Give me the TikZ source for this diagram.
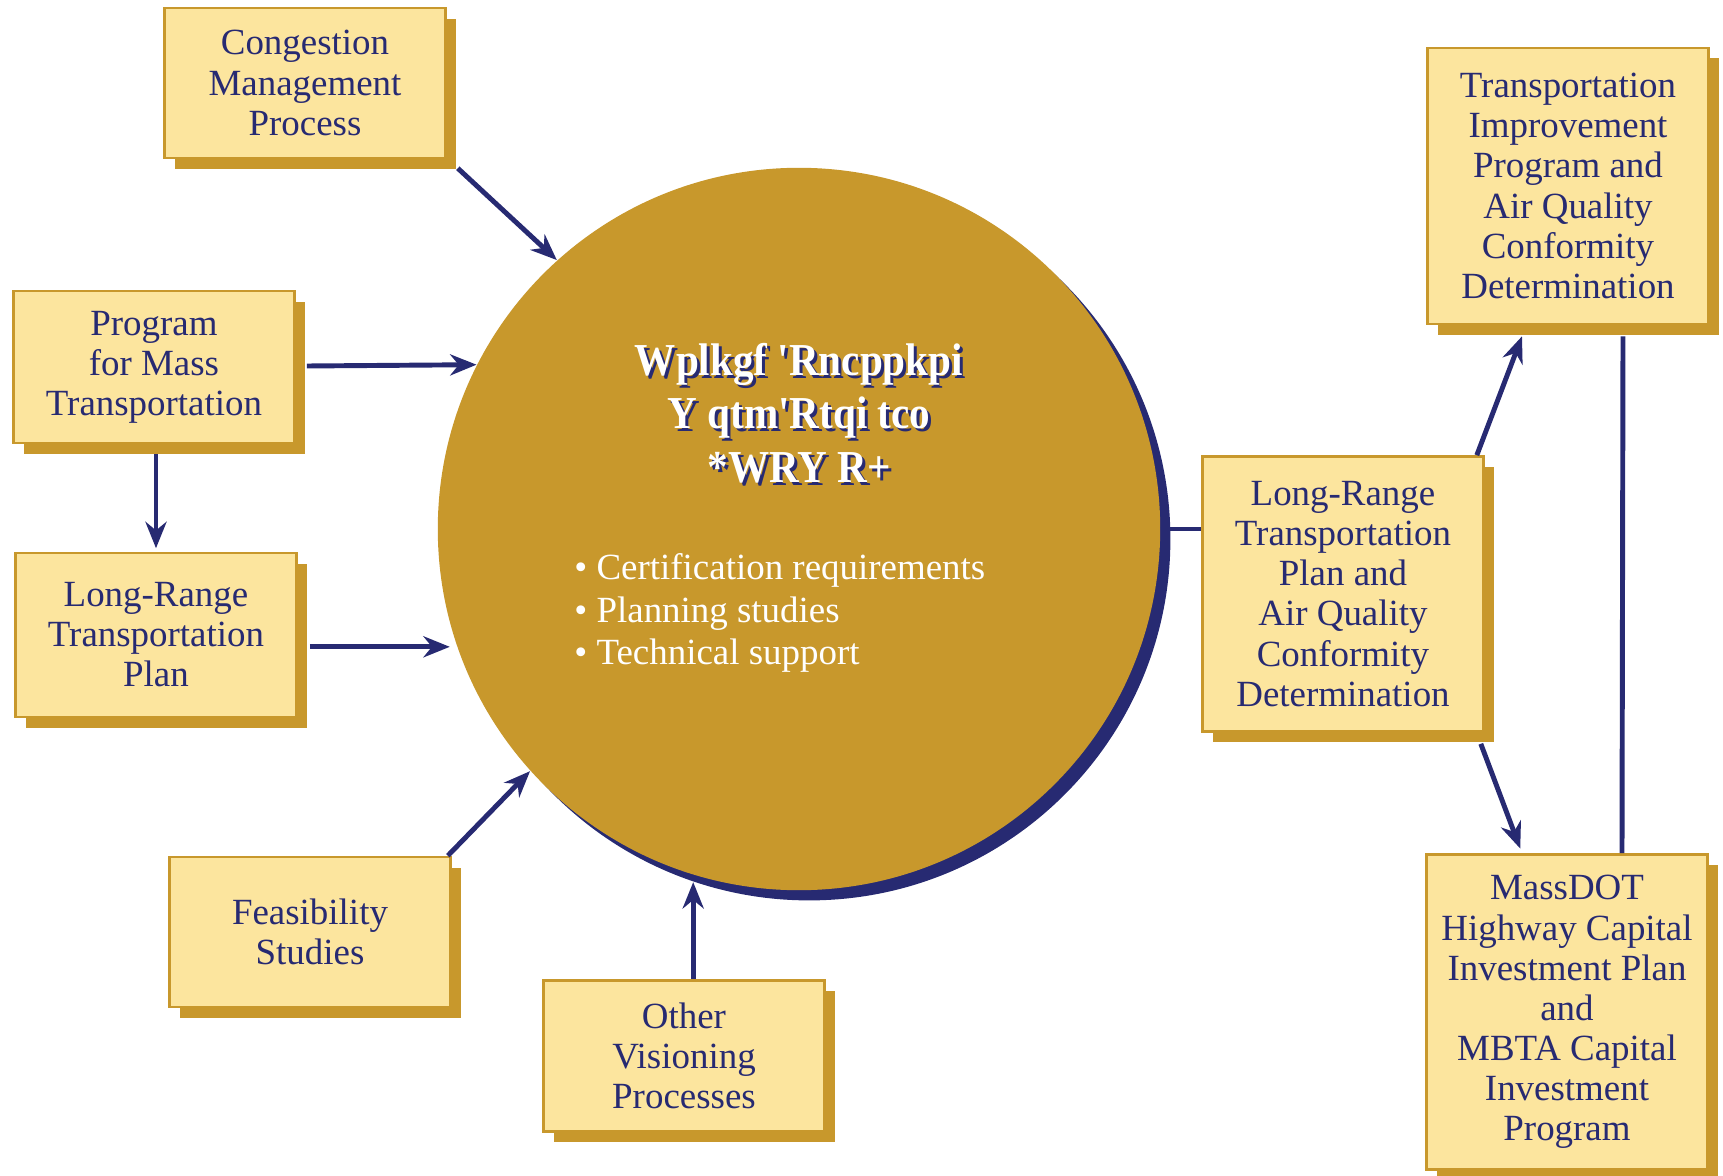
\documentclass[tikz,border=0pt]{standalone}
\usepackage{fontspec}
\setmainfont{Liberation Serif}
\usetikzlibrary{arrows.meta, shadows, calc}

\definecolor{navy}{HTML}{272A72}
\definecolor{gold}{HTML}{C8982C}
\definecolor{paleyellow}{HTML}{FCE59E}

\begin{document}
\begin{tikzpicture}[x=0.01cm, y=-0.01cm, >={Stealth[length=7.5pt,width=6pt]},
	proc/.style={draw=gold, fill=paleyellow, line width=0.7pt, text=navy, align=center,
		minimum width=2.81cm, inner sep=0pt, font=\fontsize{10.5}{11.4}\selectfont,
		drop shadow={shadow xshift=3pt, shadow yshift=-3pt, fill=gold, opacity=1}},
	arr/.style={->, draw=navy, line width=1.4pt},
	link/.style={draw=navy, line width=1.4pt}]
	\useasboundingbox (0,0) rectangle (1723,1176);

	\node[circle, fill=gold, minimum size=7.22cm, inner sep=0pt,
		drop shadow={shadow xshift=2.9pt, shadow yshift=-2.9pt, fill=navy, opacity=1}] (upwp) at (799,529) {};
	\node[text=navy, align=center, font=\bfseries\fontsize{13}{15.2}\selectfont] (ttlshadow) at (802,416)
		{\scalebox{0.9}[1]{Wplkgf \textquotesingle Rncppkpi}\\\scalebox{0.9}[1]{Y qtm\textquotesingle Rtqi tco}\\\scalebox{0.9}[1]{*WRY R+}};
	\node[text=white, align=center, font=\bfseries\fontsize{13}{15.2}\selectfont] (ttl) at (799,413)
		{\scalebox{0.9}[1]{Wplkgf \textquotesingle Rncppkpi}\\\scalebox{0.9}[1]{Y qtm\textquotesingle Rtqi tco}\\\scalebox{0.9}[1]{*WRY R+}};
	\node[anchor=west, text=white, align=left, font=\fontsize{10.5}{12.2}\selectfont] (tasks) at (562,613)
		{• Certification requirements\\• Planning studies\\• Technical support};

	\node[proc, minimum height=1.50cm] (cmp) at (305,83) {Congestion\\Management\\Process};
	\node[proc, minimum height=1.52cm] (prog) at (154,367) {Program\\for Mass\\Transportation};
	\node[proc, minimum height=1.64cm] (lrl) at (156,635) {Long-Range\\Transportation\\Plan};
	\node[proc, minimum height=1.50cm] (feas) at (310,932) {Feasibility\\Studies};
	\node[proc, minimum height=1.51cm] (ovp) at (684,1056) {Other\\Visioning\\Processes};
	\node[proc, minimum height=2.75cm] (lrr) at (1343,594)
		{Long-Range\\Transportation\\Plan and\\Air Quality\\Conformity\\Determination};
	\node[proc, minimum height=2.76cm] (tip) at (1568,186)
		{Transportation\\Improvement\\Program and\\Air Quality\\Conformity\\Determination};
	\node[proc, minimum height=3.15cm] (mdot) at (1567,1012)
		{MassDOT\\Highway Capital\\Investment Plan\\and\\MBTA Capital\\Investment\\Program};

	\draw[arr] ($(cmp.south east)+(11,9)$) -- (upwp.132);
	\draw[arr] ($(prog.east)+(11,-1)$) -- (upwp.153);
	\draw[arr, shorten >=1pt] ($(prog.south -| lrl.north)+(0,10)$) -- (lrl.north);
	\draw[arr, shorten >=2pt] ($(lrl.east |- upwp.199)+(12,0)$) -- (upwp.199);
	\draw[arr] ($(feas.north east)+(-4,0)$) -- (upwp.222);
	\draw[arr, shorten >=2pt] (ovp.north -| upwp.253) -- (upwp.253);
	\draw[link] (upwp.east) -- (upwp.east -| lrr.west);
	\draw[arr] ($(lrr.north east)+(-8,0)$) -- ($(tip.south)+(-46,11)$);
	\draw[arr, shorten >=1.4pt] ($(lrr.south east)+(-4,11)$) -- ($(mdot.north)+(-45,0)$);
	\draw[link] ($(tip.south)+(55,11)$) -- ($(mdot.north)+(55,0)$);
\end{tikzpicture}
\end{document}
